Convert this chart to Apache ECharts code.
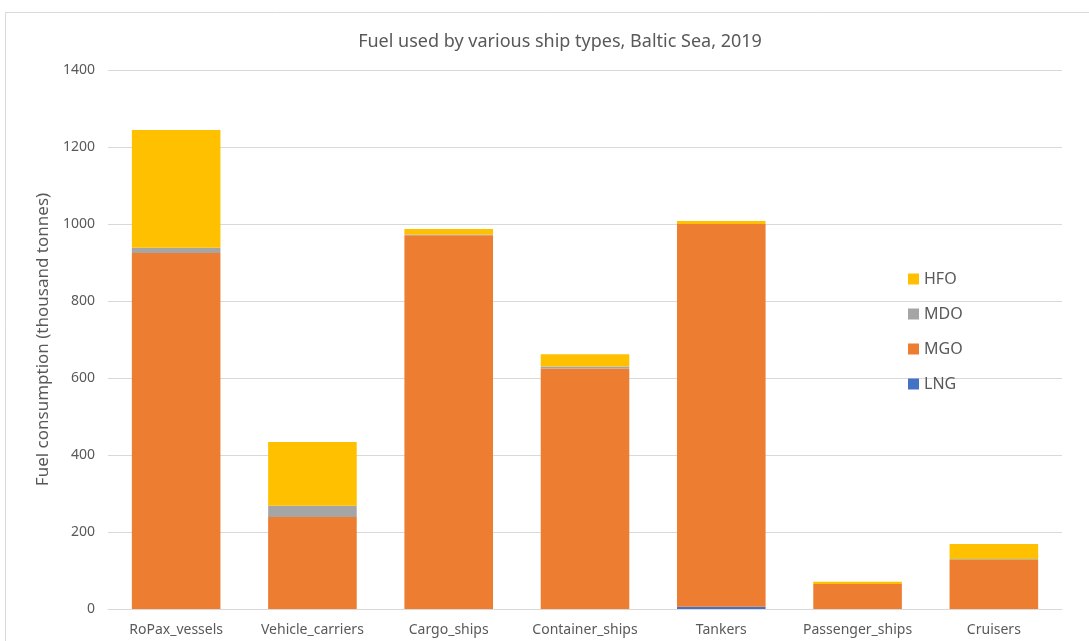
<!DOCTYPE html>
<html><head><meta charset="utf-8">
<script src="https://cdn.jsdelivr.net/npm/echarts@6/dist/echarts.min.js"></script>
<style>html,body{margin:0;padding:0;background:#fff}#c{width:1089px;height:641px}</style>
</head><body><div id="c"></div>
<script>
const categories = ['RoPax_vessels','Vehicle_carriers','Cargo_ships','Container_ships','Tankers','Passenger_ships','Cruisers'];
const LNG = [0, 0, 0, 0, 6, 0, 0];
const MGO = [925, 239, 971, 625, 994, 65, 128];
const MDO = [13, 29, 2, 5, 0, 0, 2];
const HFO = [306, 166, 14, 32, 8, 6, 39];
const yTicks = [0, 200, 400, 600, 800, 1000, 1200, 1400];

const font = 'Noto Sans';
const txt = '#595959';
const chart = echarts.init(document.getElementById('c'));
function s(name, data, color) {
  return {name, type:'bar', stack:'f', data, barWidth:'65%', itemStyle:{color}, emphasis:{disabled:true}};
}
chart.setOption({
  animation:false,
  graphic:[{type:'rect', shape:{x:5.5,y:12.5,width:1090,height:640}, style:{fill:'none', stroke:'#d9d9d9', lineWidth:1}, silent:true}],
  title:{text:'Fuel used by various ship types, Baltic Sea, 2019', left:555, textAlign:'center', top:28,
    textStyle:{color:txt, fontFamily:font, fontSize:18, fontWeight:'normal'}},
  legend:{orient:'vertical', left:903, top:264, itemGap:15, itemWidth:11, itemHeight:11, icon:'rect',
    data:['HFO','MDO','MGO','LNG'],
    textStyle:{color:txt, fontFamily:font, fontSize:16, lineHeight:20}},
  grid:{left:108, right:27, top:70, bottom:32},
  xAxis:{type:'category', data:categories,
    axisLine:{lineStyle:{color:'#d9d9d9'}}, axisTick:{show:false},
    axisLabel:{color:txt, fontFamily:font, fontSize:14, margin:14, interval:0}},
  yAxis:{type:'value', min:yTicks[0], max:yTicks[yTicks.length-1], interval:200,
    name:'Fuel consumption (thousand tonnes)', nameLocation:'middle', nameGap:56,
    nameTextStyle:{color:txt, fontFamily:font, fontSize:17},
    axisLine:{show:false}, axisTick:{show:false},
    axisLabel:{color:txt, fontFamily:font, fontSize:14, margin:13, formatter:v=>String(v)},
    splitLine:{lineStyle:{color:'#d9d9d9'}}},
  series:[s('LNG', LNG, '#4472C4'), s('MGO', MGO, '#ED7D31'), s('MDO', MDO, '#A5A5A5'), s('HFO', HFO, '#FFC000')]
});
</script></body></html>
